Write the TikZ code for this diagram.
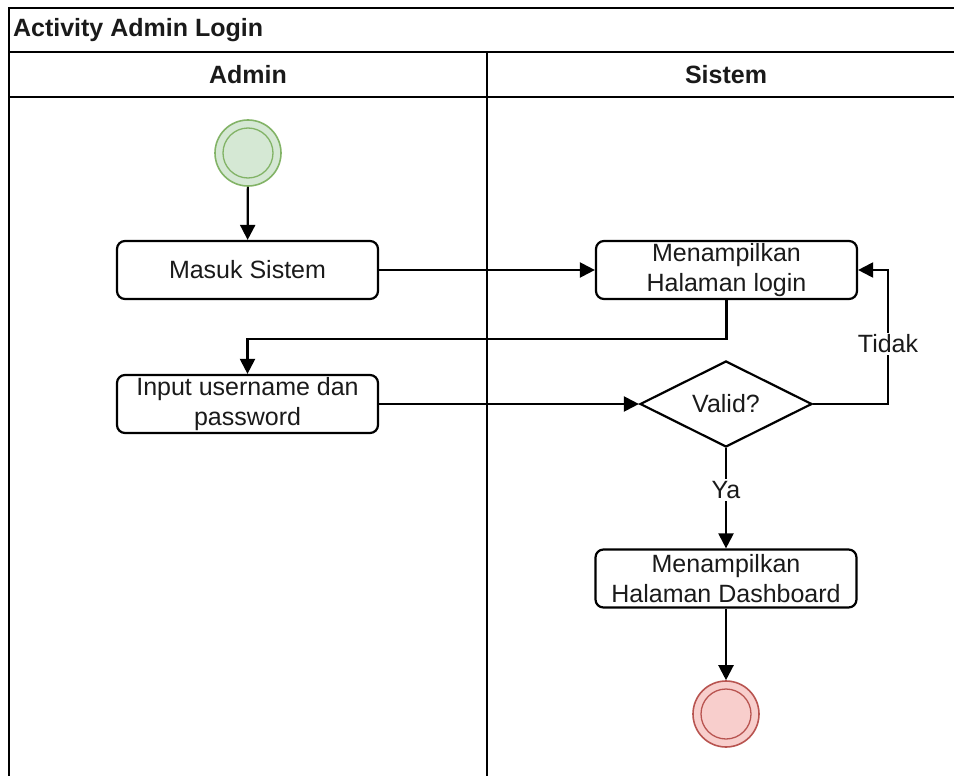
\documentclass[tikz,border=0pt]{standalone}
\usepackage{fontspec}
\setmainfont{Liberation Sans}
\usetikzlibrary{arrows.meta,shapes.geometric}
\definecolor{startfill}{HTML}{D5E8D4}
\definecolor{startline}{HTML}{82B366}
\definecolor{endfill}{HTML}{F8CECC}
\definecolor{endline}{HTML}{B85450}
\definecolor{ink}{HTML}{1A1A1A}
\begin{document}
\begin{tikzpicture}[x=1pt,y=-1pt,line width=2.2pt,
  txt/.style={font=\fontsize{25}{30}\selectfont, text=ink},
  act/.style={draw, rounded corners=8pt, minimum width=261pt, minimum height=58pt, align=center, inner sep=0pt, txt},
  hdr/.style={font=\bfseries\fontsize{25}{30}\selectfont, text=ink, inner sep=0pt},
  arr/.style={-{Triangle[length=15pt,width=15pt]}},
  lbl/.style={fill=white, inner sep=2pt, txt},
  startnode/.style={circle, draw=startline, fill=startfill, minimum size=66pt, inner sep=0pt, line width=1.6pt},
  endnode/.style={circle, draw=endline, fill=endfill, minimum size=66pt, inner sep=0pt, line width=1.6pt},
  innerring/.style={circle, minimum size=50pt, inner sep=0pt, line width=1.3pt}]
\useasboundingbox (0,0) rectangle (954,776);
\begin{scope}
  \clip (0,0) rectangle (954,776);
  \draw (9,8) rectangle (968,800);
  \draw (9,52) -- (968,52);
  \draw (9,97) -- (968,97);
  \draw (487,52) -- (487,800);
\end{scope}
\node[hdr, anchor=west] (title) at (12,30) {Activity Admin Login};
\node[hdr] (laneA) at (248,75) {Admin};
\node[hdr] (laneS) at (726,75) {Sistem};

\node[startnode] (start) at (248,153) {};
\node[innerring, draw=startline] (startin) at (start) {};

\node[act] (masuk) at (247.5,270) {Masuk Sistem};
\node[act] (input) at (247.5,404) {Input username dan\\password};
\node[act] (login) at (726.5,270) {Menampilkan\\Halaman login};
\node[diamond, draw, minimum width=172pt, minimum height=81pt, inner sep=0pt, txt] (valid) at (726,404) {Valid?};
\node[act] (dash) at (726,578.5) {Menampilkan\\Halaman Dashboard};

\node[endnode] (stop) at (726,714) {};
\node[innerring, draw=endline] (stopin) at (stop) {};

\draw[arr] (start) -- (masuk);
\draw[arr] (masuk.east) -- (login.west);
\draw[arr] (login.south) -- ++(0,39) -| (input.north);
\draw[arr] (input.east) -- (valid.west);
\coordinate (tidakcorner) at (888,404);
\draw[arr] (valid.east) -- (tidakcorner) |- (login.east);
\node[lbl] (tidak) at (888,344) {Tidak};
\draw[arr] (valid.south) -- (dash.north);
\node[lbl] (ya) at (726,490) {Ya};
\draw[arr] (dash.south) -- (stop.north);
\end{tikzpicture}
\end{document}
